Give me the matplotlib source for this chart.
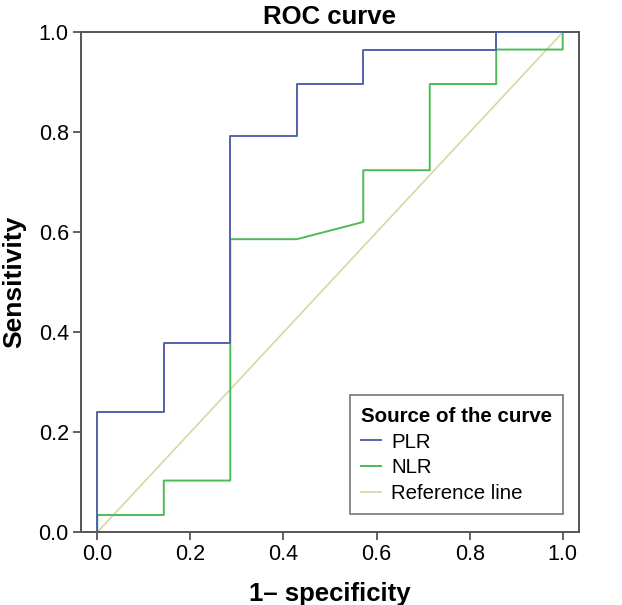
import matplotlib
matplotlib.use("Agg")
import matplotlib.pyplot as plt

plt.rcParams['font.family'] = ['Liberation Sans', 'DejaVu Sans']

# Data (1 - specificity, sensitivity)
plr_x = [0, 0, 1/7, 1/7, 2/7, 2/7, 3/7, 3/7, 4/7, 4/7, 6/7, 6/7, 1]
plr_y = [0, 7/29, 7/29, 11/29, 11/29, 23/29, 23/29, 26/29, 26/29, 28/29, 28/29, 1, 1]
nlr_x = [0, 0, 1/7, 1/7, 2/7, 2/7, 3/7, 4/7, 4/7, 5/7, 5/7, 6/7, 6/7, 1, 1]
nlr_y = [0, 1/29, 1/29, 3/29, 3/29, 17/29, 17/29, 18/29, 21/29, 21/29, 26/29, 26/29, 28/29, 28/29, 1]
ref_x = [0, 1]
ref_y = [0, 1]
ticks = [0.0, 0.2, 0.4, 0.6, 0.8, 1.0]
tick_labels = ["0.0", "0.2", "0.4", "0.6", "0.8", "1.0"]

fig = plt.figure(figsize=(6.22, 6.05), dpi=100)
ax = fig.add_axes([0.1297, 0.1202, 0.8012, 0.8264])

ax.plot(ref_x, ref_y, color='#d9d6a6', lw=1.2, label='Reference line', zorder=1)
ax.plot(nlr_x, nlr_y, color='#4cbb58', lw=1.4, label='NLR', zorder=2)
ax.plot(plr_x, plr_y, color='#5163ad', lw=1.4, label='PLR', zorder=3)

ax.set_xlim(-0.0357, 1.035)
ax.set_ylim(0, 1)
ax.set_xticks(ticks)
ax.set_xticklabels(tick_labels)
ax.set_yticks(ticks)
ax.set_yticklabels(tick_labels)
ax.tick_params(axis='both', direction='out', length=6, width=1.3, color='#555555',
               labelsize=15.5, pad=2.5)
for s in ax.spines.values():
    s.set_color('#555555')
    s.set_linewidth(1.4)

ax.set_title('ROC curve', fontsize=18.5, fontweight='bold', pad=6)
ax.set_xlabel('1\u2013 specificity', fontsize=18.5, fontweight='bold', labelpad=12)
ax.set_ylabel('Sensitivity', fontsize=19, fontweight='bold', labelpad=9)

handles, labels = ax.get_legend_handles_labels()
order = [2, 1, 0]
leg = ax.legend([handles[i] for i in order], [labels[i] for i in order],
                title='Source of the curve', loc='lower right',
                bbox_to_anchor=(0.968, 0.036), fontsize=14.7,
                title_fontproperties={'weight': 'bold', 'size': 14.8},
                frameon=True, fancybox=False, handlelength=1.0,
                handletextpad=0.5, borderpad=0.55, labelspacing=0.33,
                borderaxespad=0)
leg._legend_box.align = 'left'
leg._legend_box.sep = 5
leg.get_frame().set_edgecolor('#555555')
leg.get_frame().set_linewidth(1.2)

fig.savefig('out.png', dpi=100)
